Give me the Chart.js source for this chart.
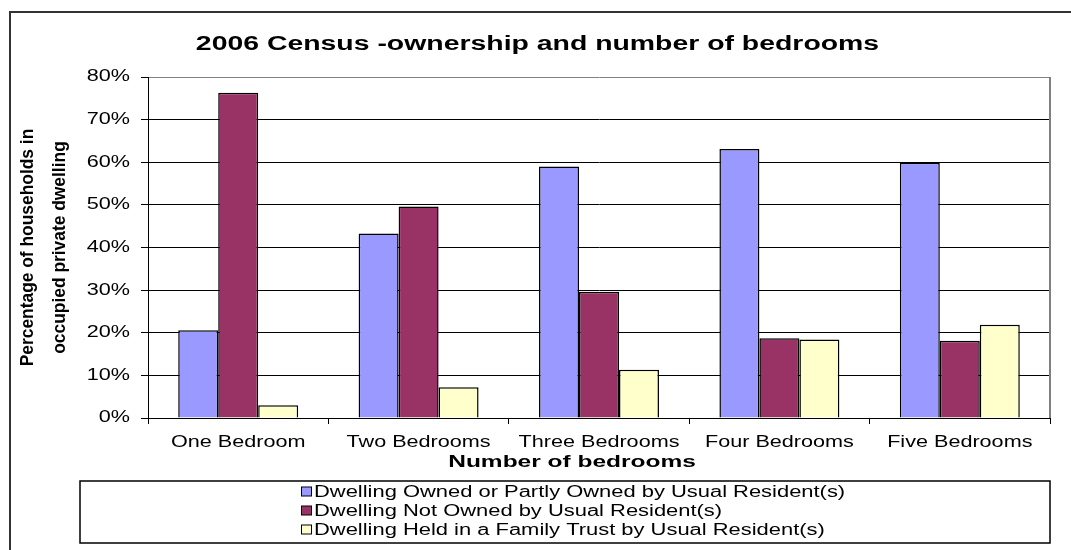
<!DOCTYPE html>
<html>
<head>
<meta charset="utf-8">
<script src="https://cdn.jsdelivr.net/npm/chart.js@4.4.1/dist/chart.umd.min.js"></script>
<style>
  html, body { margin: 0; padding: 0; background: #fff; }
  canvas { display: block; }
</style>
</head>
<body>
<canvas id="censusChart" width="1071" height="550"></canvas>
<script>
const chartTitle = '2006 Census -ownership and number of bedrooms';
const xAxisTitle = 'Number of bedrooms';
const yAxisTitle = ['Percentage of households in', 'occupied private dwelling'];

const categories = ['One Bedroom', 'Two Bedrooms', 'Three Bedrooms', 'Four Bedrooms', 'Five Bedrooms'];
const seriesNames = [
  'Dwelling Owned or Partly Owned by Usual Resident(s)',
  'Dwelling Not Owned by Usual Resident(s)',
  'Dwelling Held in a Family Trust by Usual Resident(s)'
];
const ownedValues = [20.6, 43.3, 59.0, 63.1, 59.9];
const notOwnedValues = [76.3, 49.6, 29.6, 18.7, 18.1];
const trustValues = [3.0, 7.2, 11.3, 18.4, 21.9];
const seriesColors = ['#9999FF', '#993366', '#FFFFCC'];

const FONT = "'Liberation Sans', Arial, sans-serif";

// the source image has wide, horizontally stretched text; stretch glyphs the same way
// (factor applies along the text direction, also for rotated text)
let textStretch = 1.35;

function patchFillText(ctx) {
  if (ctx._stretchPatched) return;
  const orig = ctx.fillText;
  ctx.fillText = function (text, x, y, maxWidth) {
    if (textStretch === 1) {
      return maxWidth === undefined ? orig.call(this, text, x, y) : orig.call(this, text, x, y, maxWidth);
    }
    this.save();
    this.translate(x, y);
    this.scale(textStretch, 1);
    if (maxWidth === undefined) orig.call(this, text, 0, 0);
    else orig.call(this, text, 0, 0, maxWidth / textStretch);
    this.restore();
  };
  ctx._stretchPatched = true;
}

function withStretch(chart, obj, method, factor, shiftX = 0) {
  if (!obj || obj['_st_' + method]) return;
  const orig = obj[method];
  obj[method] = function (...args) {
    const prev = textStretch;
    textStretch = factor;
    chart.ctx.save();
    chart.ctx.translate(shiftX, 0);
    orig.apply(this, args);
    chart.ctx.restore();
    textStretch = prev;
  };
  obj['_st_' + method] = true;
}

const textPlugin = {
  id: 'stretchText',
  beforeDraw(chart) {
    const ctx = chart.ctx;
    patchFillText(ctx);
    withStretch(chart, chart.titleBlock, 'draw', 1.42, 2);
    withStretch(chart, chart.scales.x, 'drawTitle', 1.53, -27);
    withStretch(chart, chart.scales.y, 'drawTitle', 0.915);

    // white page + outer chart frame (runs off the right/bottom edge)
    ctx.save();
    ctx.fillStyle = '#fff';
    ctx.fillRect(0, 0, chart.width, chart.height);
    ctx.strokeStyle = '#333';
    ctx.lineWidth = 2;
    ctx.strokeRect(10, 12, chart.width + 50, chart.height + 50);
    ctx.restore();
  },
  beforeDatasetsDraw(chart) {
    const { ctx, chartArea } = chart;
    ctx.save();
    ctx.strokeStyle = '#808080';
    ctx.lineWidth = 2;
    ctx.beginPath();
    ctx.moveTo(chartArea.right, chartArea.top);
    ctx.lineTo(chartArea.right, chartArea.bottom);
    ctx.stroke();
    ctx.restore();
  }
};

const legendBoxPlugin = {
  id: 'legendBox',
  afterDraw(chart) {
    const { ctx, chartArea } = chart;
    const left = 80;
    const top = chartArea.bottom + 63;
    const width = chartArea.right - left;
    const height = 62;
    ctx.save();
    ctx.strokeStyle = '#000';
    ctx.lineWidth = 1.5;
    ctx.strokeRect(left, top, width, height);
    ctx.font = '16px ' + FONT;
    ctx.textBaseline = 'middle';
    ctx.textAlign = 'left';
    textStretch = 1.37;
    chart.data.datasets.forEach((ds, i) => {
      const y = top + 10.5 + i * 19;
      ctx.fillStyle = ds.backgroundColor;
      ctx.fillRect(301, y - 4.5, 10, 9);
      ctx.lineWidth = 1;
      ctx.strokeRect(301.5, y - 4.5, 10, 9);
      ctx.fillStyle = '#000';
      ctx.fillText(ds.label, 314, y + 1);
    });
    textStretch = 1.35;
    ctx.restore();
  }
};

new Chart(document.getElementById('censusChart'), {
  type: 'bar',
  data: {
    labels: categories,
    datasets: [
      { label: seriesNames[0], data: ownedValues, backgroundColor: seriesColors[0] },
      { label: seriesNames[1], data: notOwnedValues, backgroundColor: seriesColors[1] },
      { label: seriesNames[2], data: trustValues, backgroundColor: seriesColors[2] }
    ].map(ds => Object.assign(ds, {
      borderColor: '#000',
      borderWidth: 1.5,
      barPercentage: 1,
      categoryPercentage: 0.665
    }))
  },
  options: {
    responsive: false,
    animation: false,
    devicePixelRatio: 1,
    layout: { padding: { left: 0, top: 0, right: 0, bottom: 74 } },
    plugins: {
      legend: { display: false },
      tooltip: { enabled: false },
      title: {
        display: true,
        text: chartTitle,
        color: '#000',
        font: { family: FONT, size: 20, weight: 'bold' },
        padding: { top: 32, bottom: 21 }
      }
    },
    scales: {
      x: {
        grid: { display: true, drawOnChartArea: false, drawTicks: true, tickLength: 6, offset: true, color: '#000' },
        border: { display: true, color: '#000', width: 1 },
        ticks: { color: '#000', font: { family: FONT, size: 16 }, padding: 9, maxRotation: 0, autoSkip: false },
        title: {
          display: true,
          text: xAxisTitle,
          color: '#000',
          font: { family: FONT, size: 16, weight: 'bold' },
          padding: { top: 2, bottom: 4 }
        },
        afterFit(scale) {
          scale.height = 58;
          scale.paddingRight = 21;
        }
      },
      y: {
        min: 0,
        max: 80,
        ticks: {
          stepSize: 10,
          color: '#000',
          font: { family: FONT, size: 16 },
          padding: 11,
          callback: v => v + '%'
        },
        grid: {
          color: c => (c.tick && c.tick.value === 80 ? '#808080' : '#000'),
          tickColor: '#000',
          tickLength: 7,
          lineWidth: 1
        },
        border: { display: true, color: '#000', width: 1 },
        title: {
          display: true,
          text: yAxisTitle,
          color: '#000',
          font: { family: FONT, size: 19, weight: 'bold', lineHeight: 1.68 },
          padding: { top: 12, bottom: 0 }
        },
        afterFit(scale) { scale.width = 148; }
      }
    }
  },
  plugins: [textPlugin, legendBoxPlugin]
});
</script>
</body>
</html>
